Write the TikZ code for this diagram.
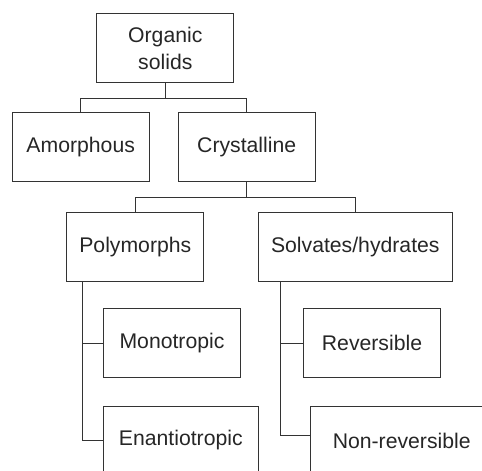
\documentclass[tikz,border=0pt]{standalone}
\usepackage{fontspec}
\setmainfont{Liberation Sans}
\begin{document}
\begin{tikzpicture}[x=1pt,y=-1pt,
  box/.style={draw=black!80,line width=1pt,rectangle,inner sep=0pt,text=black!85,
    font=\fontsize{21.2}{26.7}\selectfont,align=center},
  conn/.style={draw=black!80,line width=1pt}]
\useasboundingbox (0,0) rectangle (482,471);
\clip (0,0) rectangle (482,471);
\node[box,minimum width=137.3pt,minimum height=68.7pt] (org) at (165.3,48.3) {Organic\\solids};
\node[box,minimum width=136.7pt,minimum height=69pt] (amor) at (80.7,147.2) {Amorphous};
\node[box,minimum width=136.7pt,minimum height=69pt] (cry) at (246.7,147.2) {Crystalline};
\node[box,minimum width=137.3pt,minimum height=68.7pt] (poly) at (135.3,246.7) {Polymorphs};
\node[box,minimum width=194pt,minimum height=68.7pt] (solv) at (355.3,246.7) {Solvates/hydrates};
\node[box,minimum width=137.3pt,minimum height=68.7pt] (mono) at (172,343.3) {Monotropic};
\node[box,minimum width=137.3pt,minimum height=68.7pt] (rev) at (372,343.3) {Reversible};
\node[box,minimum width=155pt,minimum height=69pt] (enan) at (180.8,440.5) {Enantiotropic};
\node[box,minimum width=183.3pt,minimum height=69pt] (nonrev) at (401.7,440.5) {Non-reversible};
\coordinate (pj) at (82.7,281);
\coordinate (sj) at (280,281);
\draw[conn] (org.south) -- ++(0,15) -| (amor.north);
\draw[conn] (org.south) -- ++(0,15) -| (cry.north);
\draw[conn] (cry.south) -- ++(0,15.5) -| (poly.north);
\draw[conn] (cry.south) -- ++(0,15.5) -| (solv.north);
\draw[conn] (pj) |- (mono.west);
\draw[conn] (pj) |- (enan.west);
\draw[conn] (sj) |- (rev.west);
\draw[conn] (sj) |- ([yshift=5.5pt]nonrev.west);
\end{tikzpicture}
\end{document}
